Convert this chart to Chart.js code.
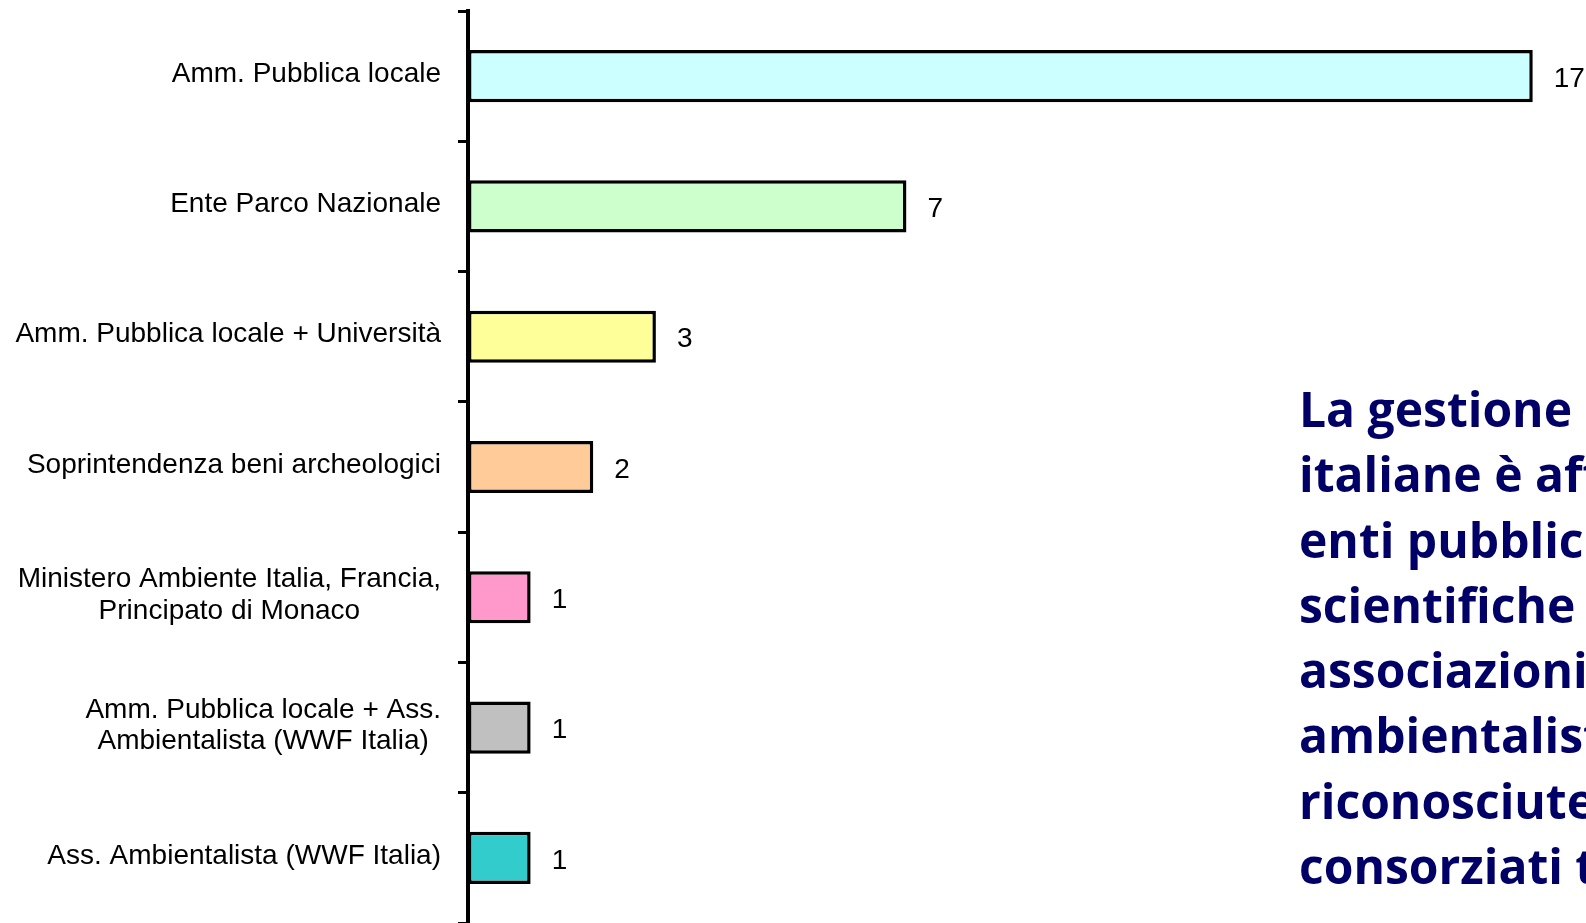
<!DOCTYPE html>
<html>
<head>
<meta charset="utf-8">
<script src="https://cdn.jsdelivr.net/npm/chart.js@4"></script>
<style>
  html, body { margin: 0; padding: 0; background: #fff; overflow: hidden; }
  #wrap { position: relative; width: 1586px; height: 923px; overflow: hidden; }
  #note {
    position: absolute; left: 1299px; top: 376px;
    font: 700 48px "Open Sans", Lato, sans-serif; line-height: 65.3px;
    color: #000066; white-space: nowrap;
  }
</style>
</head>
<body>
<div id="wrap">
  <canvas id="chart" width="1586" height="923"></canvas>
  <div id="note">La gestione delle aree<br>italiane è affidata a<br>enti pubblici, istituzioni<br>scientifiche e<br>associazioni<br>ambientaliste<br>riconosciute, anche<br>consorziati tra loro</div>
</div>
<script>
const categories = [
  'Amm. Pubblica locale',
  'Ente Parco Nazionale',
  'Amm. Pubblica locale + Università',
  'Soprintendenza beni archeologici',
  ['Ministero Ambiente Italia, Francia,', 'Principato di Monaco'],
  ['Amm. Pubblica locale + Ass.', 'Ambientalista (WWF Italia)'],
  'Ass. Ambientalista (WWF Italia)'
];
const counts = [17, 7, 3, 2, 1, 1, 1];
const barColors = ['#CCFFFF', '#CCFFCC', '#FFFF99', '#FFCC99', '#FF99CC', '#C0C0C0', '#33CCCC'];

const labelFont = '28px "Liberation Sans", Arial, sans-serif';
const valueFont = '28px "Liberation Sans", Arial, sans-serif';

// category names, each block centred on its own widest line, right edge fixed
const catLabels = {
  id: 'catLabels',
  afterDraw(chart) {
    const ctx = chart.ctx;
    const y = chart.scales.y;
    const right = 441, lineH = 31.5;
    ctx.save();
    ctx.font = labelFont;
    ctx.fillStyle = '#000';
    ctx.textBaseline = 'middle';
    ctx.textAlign = 'center';
    categories.forEach((lab, i) => {
      let lines = Array.isArray(lab) ? lab : [lab];
      let widest = Math.max(...lines.map(l => ctx.measureText(l).width));
      let cx = right - widest / 2;
      let cy = y.getPixelForValue(i) - 2;
      lines.forEach((l, j) => {
        ctx.fillText(l, cx, cy + (j - (lines.length - 1) / 2) * lineH);
      });
    });
    ctx.restore();
  }
};

const valueLabels = {
  id: 'valueLabels',
  afterDatasetsDraw(chart) {
    const ctx = chart.ctx;
    const meta = chart.getDatasetMeta(0);
    ctx.save();
    ctx.font = valueFont;
    ctx.fillStyle = '#000';
    ctx.textBaseline = 'middle';
    ctx.textAlign = 'left';
    meta.data.forEach((bar, i) => {
      ctx.fillText(String(counts[i]), bar.x + 21, bar.y + 3);
    });
    ctx.restore();
  }
};

new Chart(document.getElementById('chart'), {
  type: 'bar',
  data: {
    labels: categories,
    datasets: [{
      data: counts,
      backgroundColor: barColors,
      borderColor: '#000',
      borderWidth: 3.5,
      borderSkipped: false,
      barPercentage: 0.4,
      categoryPercentage: 1
    }]
  },
  options: {
    indexAxis: 'y',
    responsive: false,
    animation: false,
    layout: { padding: { top: 11, right: 0, bottom: 0, left: 0 } },
    plugins: { legend: { display: false }, tooltip: { enabled: false } },
    scales: {
      x: { type: 'linear', min: 0, max: 17.85, display: false },
      y: {
        position: 'left',
        offset: true,
        grid: {
          offset: true,
          drawOnChartArea: false,
          drawTicks: true,
          tickLength: 10,
          tickWidth: 3,
          tickColor: '#000'
        },
        border: { display: true, color: '#000', width: 4 },
        ticks: { display: false },
        afterFit(scale) { scale.width = 468; }
      }
    }
  },
  plugins: [catLabels, valueLabels]
});
</script>
</body>
</html>
